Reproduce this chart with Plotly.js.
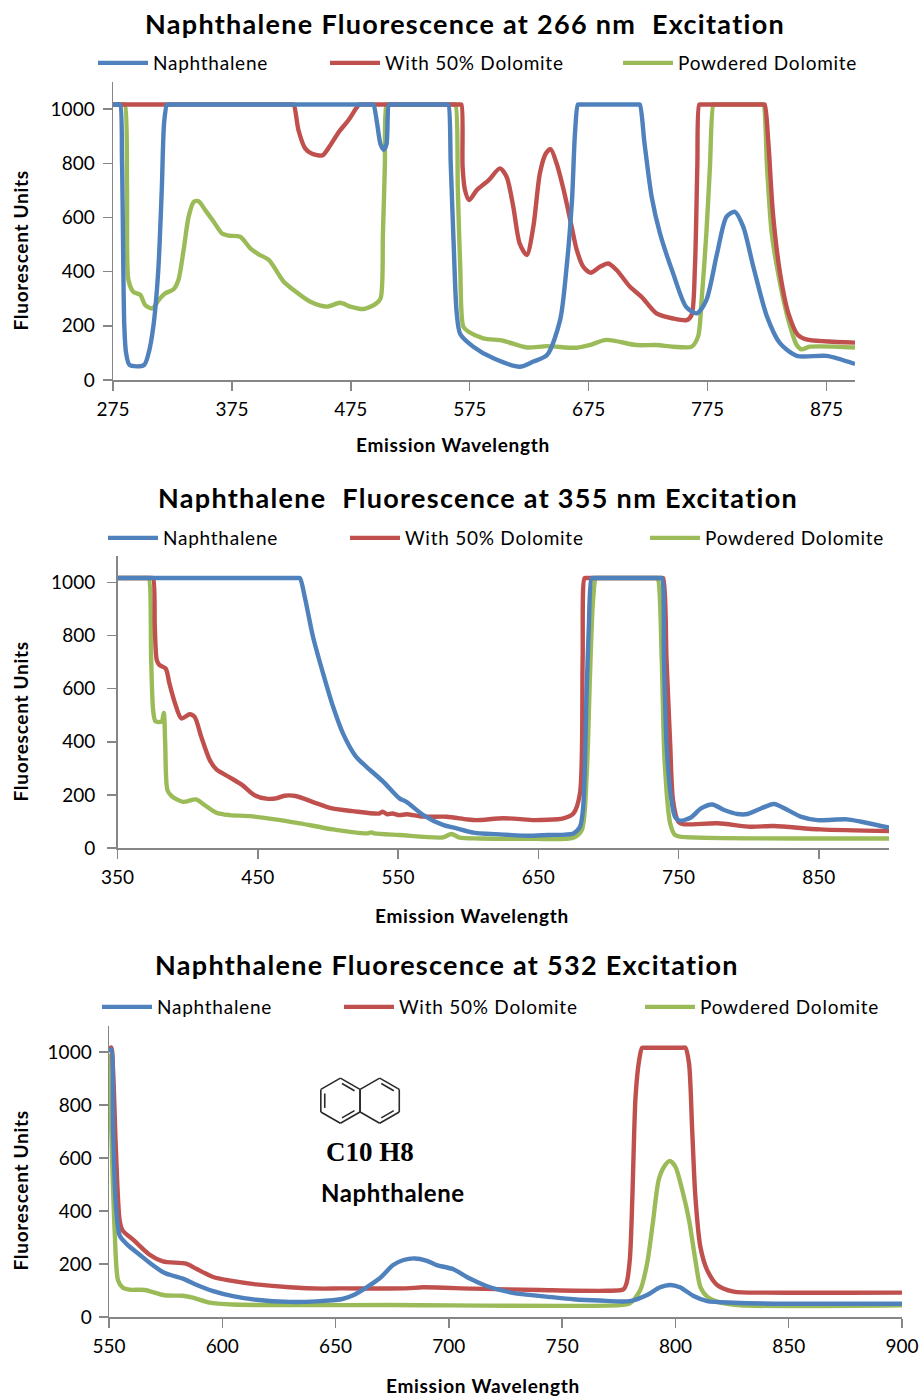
<!DOCTYPE html>
<html><head><meta charset="utf-8">
<script src="https://cdn.plot.ly/plotly-3.0.1.min.js"></script>
<style>html,body{margin:0;padding:0;background:#fff}#c{width:921px;height:1397px}</style>
</head><body><div id="c"></div>
<script>
const seriesNames = ['Naphthalene','With 50% Dolomite','Powdered Dolomite'];
const seriesColors = ['#4F81BD','#C0504D','#9BBB59'];
const chartTitles = ['Naphthalene Fluorescence at 266 nm  Excitation','Naphthalene  Fluorescence at 355 nm Excitation','Naphthalene Fluorescence at 532 Excitation'];
const xTitle = 'Emission Wavelength', yTitle = 'Fluorescent Units';
const ticksA = [275,375,475,575,675,775,875];
const ticksB = [350,450,550,650,750,850];
const ticksC = [550,600,650,700,750,800,850,900];
const ticksY = [0,200,400,600,800,1000];

// Chart 1 : 266 nm
const aBlueX = [275,279.5,281,282.6,284.5,286,289,301,305,309,313,316,318,320.4,322,492.5,494,497,500,502.6,505,507,508.5,555.5,557,559,561.5,564,567,578,595,617,628.5,640,651,656.5,661,663.5,666,667.5,716.5,718,722,728,735,746,757,766,774,783,791,798,805,813.5,825,836,850,875,899];
const aBlueY = [1017,1017,1017,800,200,100,55,55,100,200,400,700,950,1017,1017,1017,1017,950,870,850,870,1017,1017,1017,1017,800,500,250,170,123,80,49,68,92,221,418,664,910,1017,1017,1017,1017,873,676,541,394,270,246,295,467,603,621,566,418,234,135,89,89,59];
const aRedX = [275,425.5,427,431,436.6,442,451,456,465,473,482,483.5,566.5,568,569,571,574.4,581,591,600.4,606,611.6,617,623,628.5,634,639,643,648,654,660.7,665,670.5,676.7,684.5,691.5,698.5,709.8,719.5,732,746,757.4,761.6,764.4,766.4,768,769.5,821.5,823,826,830,836,843,851,858,899];
const aRedY = [1017,1017,1017,922,855,836,829,855,916,959,1017,1017,1017,1017,787,701,664,701,738,781,750,640,504,461,566,763,836,852,800,701,566,480,418,396,418,430,406,344,307,246,227,221,240,418,787,1017,1017,1017,1017,885,615,394,246,166,150,138];
const aGreenX = [275,283.5,285,286.8,288,292,298,302,308,313.4,319,326,330,334.4,338.6,343,347,352.6,359.7,366.7,372,382,390.5,397.5,406,418.6,427,441,455,466,474.6,485.8,495.6,500,502,503.6,505,506.5,561.5,563,565,567,569.6,574,586.4,603,623,640,665,676,690,715,732,746,761.6,767,770,774,777,780,781.5,820.5,822,825,829,836,843,850,854,861,899];
const aGreenY = [1017,1017,1017,700,369,326,314,277,264,295,320,335,369,480,603,658,660,627,584,541,533,529,486,464,443,363,332,289,271,285,271,262,280,301,541,787,1017,1017,1017,1017,700,418,197,178,154,145,120,125,119,129,148,129,129,123,123,160,295,541,787,1017,1017,1017,1017,787,541,357,221,129,113,123,120];

// Chart 2 : 355 nm
const bBlueX = [350,478,480,483.5,489.4,496.6,503.7,510.8,520,527.5,539.4,551,556,568,582,591.8,603.7,627,644,658,675,679.7,682,684.4,686,688,689.5,736.5,738,739.6,741.4,744.3,747.4,751,758.8,766,774,782.5,792,799,808.7,818,827.7,837,849,870,880,900];
const bBlueY = [1017,1017,1017,946,795,657,532,431,344,306,250,187,174,124,87,74,58,50,46,49,55,80,156,582,833,1017,1017,1017,1017,708,394,206,118,103,115,149,164,143,128,128,149,166,143,118,105,108,99,77];
const bRedX = [350,374,375.4,376.6,378,380,384.4,387,391,395.6,401.5,405,409.7,415.8,420.5,430,439,447.6,456,463,469,477,489,503,517.5,536.5,539,542.4,546,551,556,568,584.7,599,606,625,639,646,667.8,675,679.7,681.6,683,684.5,737.5,739,741.4,744,746,749.8,753,777.8,801.5,818,851,900];
const bRedY = [1017,1017,1017,833,708,689,676,620,545,488,504,494,419,331,296,266,237,199,186,187,197,196,174,149,139,130,137,127,130,124,127,118,118,108,105,112,108,105,112,130,206,708,1017,1017,1017,1017,708,394,181,99,90,93,80,83,70,64];
const bGreenX = [350,371,372.3,374,375.4,377,381.4,383,384,385.6,388.5,396.6,406,412,420.5,430,444,461,480,503.7,527.5,531,533,551,582,588,594,608,639.4,675,681,684.4,686.8,689,691,692.5,733.5,735,738,740,744,747.4,751,900];
const bGreenY = [1017,1017,1017,708,519,478,476,509,394,218,196,174,183,162,133,124,120,109,93,70,55,59,55,49,40,53,39,36,35,39,68,268,645,933,1017,1017,1017,1017,708,331,93,49,43,36];

// Chart 3 : 532 nm
const cBlueX = [550,551,551.8,553,554.7,557.6,563.4,569.4,574.6,582.6,588.5,596,604.7,615,629.7,641.5,653,658,663.7,669.5,675.4,680,685,690,694.6,702,709,716.6,722.5,731,743,754.9,766.6,779.9,787.5,793,797.8,802,808,814,825.7,849,900];
const cBlueY = [1000,1010,704,428,308,277,236,195,166,145,122,98,79,65,57,59,68,83,112,146,196,215,221,213,196,180,146,117,102,87,77,67,62,60,83,111,121,112,79,60,54,50,50];
const cRedX = [550,551,551.8,553,554.7,556,561,567.8,573.8,584,588.5,596,603,615,629.7,644.4,652,681,688.7,710.7,740,769.6,777,778.4,779.9,781,782.4,784,785.3,786.5,803,804.4,806,807.4,808.8,811,814,818.4,825.7,840,900];
const cRedY = [1010,1017,931,641,365,327,289,236,210,201,182,151,138,123,112,107,108,108,112,107,102,99,104,127,220,454,831,970,1016,1016,1016,1016,957,705,454,265,177,121,96,92,92];
const cGreenX = [550,551,552.5,554,556,559,565.7,574.6,582.6,587,594.4,604.7,623.8,674,775.7,780,784.5,787.5,790,792.6,795,797.5,800,803,806,808.8,811,814,820,828.7,900];
const cGreenY = [994,704,327,138,111,103,102,82,80,73,54,47,45,45,45,52,102,202,353,517,567,589,567,479,366,215,114,77,54,44,44];

// Chart geometry in page pixels
const W = 921, H = 1397;
const px = v => v / W, py = v => 1 - v / H;
const boxes = [
  {l:113,r:855,t:82,b:380,range:[275,899],ticks:ticksA,yGap:4,title:[465,24],xt:[453,444],yt:[19.5,251],leg:[[93,63],[325,63],[618,63]]},
  {l:117.5,r:889,t:556,b:848,range:[350,900],ticks:ticksB,yGap:8,title:[478,497],xt:[472,915],yt:[19.5,722],leg:[[103,538],[345,538],[645,538]]},
  {l:109,r:902,t:1025.5,b:1317,range:[550,900],ticks:ticksC,yGap:3,title:[447,965],xt:[483,1385],yt:[19.5,1191],leg:[[97,1007],[339,1007],[640,1007]]}
];
const data3 = [
  [[aBlueX,aBlueY],[aRedX,aRedY],[aGreenX,aGreenY]],
  [[bBlueX,bBlueY],[bRedX,bRedY],[bGreenX,bGreenY]],
  [[cBlueX,cBlueY],[cRedX,cRedY],[cGreenX,cGreenY]]
];
const font = 'Lato, "Noto Sans", sans-serif';
const axisColor = '#868686';
const layout = {
  width:W,height:H,margin:{l:0,r:0,t:0,b:0},paper_bgcolor:'#fff',plot_bgcolor:'#fff',
  font:{family:font,size:18,color:'#000'},hovermode:false,annotations:[],shapes:[]
};
const traces = [];
const spaced = (t,sp) => '<span style="letter-spacing:'+sp+'px"><b>'+t+'</b></span>';
const spacedPlain = (t,sp) => '<span style="letter-spacing:'+sp+'px">'+t+'</span>';
boxes.forEach((b,i) => {
  const n = i===0?'':String(i+1);
  layout['xaxis'+n] = {domain:[px(b.l),px(b.r)],range:b.range,anchor:'y'+n,tickmode:'array',tickvals:b.ticks,
    ticks:'outside',ticklen:9,tickwidth:1.5,tickcolor:axisColor,showline:true,linecolor:axisColor,linewidth:1.5,
    showgrid:false,zeroline:false,tickfont:{family:font,size:19,color:'#000'},ticklabelstandoff:3};
  layout['yaxis'+n] = {domain:[py(b.b),py(b.t)],range:[0,1100],anchor:'x'+n,tickmode:'array',tickvals:ticksY,
    ticks:'outside',ticklen:9,tickwidth:1.5,tickcolor:axisColor,showline:true,linecolor:axisColor,linewidth:1.5,
    showgrid:false,zeroline:false,tickfont:{family:font,size:19,color:'#000'},ticklabelstandoff:b.yGap};
  [2,1,0].forEach(s => {
    const lid = 'legend'+(i*3+s===0?'':String(i*3+s+1));
    traces.push({type:'scatter',mode:'lines',name:spacedPlain(seriesNames[s],.75),x:data3[i][s][0],y:data3[i][s][1],
      xaxis:'x'+n,yaxis:'y'+n,legend:lid,showlegend:true,
      line:{color:seriesColors[s],width:4.4,shape:'spline',smoothing:0.75}});
    layout[lid] = {x:px(b.leg[s][0]),y:py(b.leg[s][1]),xanchor:'left',yanchor:'middle',orientation:'h',
      itemwidth:50,bgcolor:'rgba(0,0,0,0)',borderwidth:0,font:{family:font,size:19,color:'#000'},
      itemclick:false,itemdoubleclick:false};
  });
  const ann = (text,p,size,extra={}) => layout.annotations.push(Object.assign({text,xref:'paper',yref:'paper',
    x:px(p[0]),y:py(p[1]),xanchor:'center',yanchor:'middle',showarrow:false,
    font:{family:font,size,color:'#000'}},extra));
  ann(spaced(chartTitles[i],1.3),b.title,27);
  ann(spaced(xTitle,.7),b.xt,19);
  ann(spaced(yTitle,.7),b.yt,19,{textangle:-90});
});
layout.annotations.push({text:'<b>C10 H8</b>',xref:'paper',yref:'paper',x:px(370),y:py(1152),xanchor:'center',yanchor:'middle',showarrow:false,font:{family:'"Liberation Serif",serif',size:27,color:'#000'}});
layout.annotations.push({text:spaced('Naphthalene',.6),xref:'paper',yref:'paper',x:px(392.5),y:py(1192),xanchor:'center',yanchor:'middle',showarrow:false,font:{family:font,size:24,color:'#000'}});

// Naphthalene structure drawing (decoration, page pixels)
const ringR = 22.6, ringY = 1100.7, ringXs = [340.4,379.7];
const bondStyle = {color:'#2a2a2a',width:1.6};
const seg = (x0,y0,x1,y1) => layout.shapes.push({type:'line',xref:'paper',yref:'paper',x0:px(x0),y0:py(y0),x1:px(x1),y1:py(y1),line:bondStyle});
const vert = (cx,k,r) => { const a = Math.PI/3*k - Math.PI/2; return [cx+r*Math.cos(a), ringY+r*Math.sin(a)]; };
ringXs.forEach(cx => {
  for(let k=0;k<6;k++){ const p=vert(cx,k,ringR),q=vert(cx,k+1,ringR); seg(p[0],p[1],q[0],q[1]); }
});
[[0,0],[2,0],[4,0],[0,1],[2,1]].forEach(([k,ri]) => {
  const a = vert(ringXs[ri],k,ringR*0.8), b2 = vert(ringXs[ri],k+1,ringR*0.8);
  const m = [a[0]+(b2[0]-a[0])*0.1,a[1]+(b2[1]-a[1])*0.1], e=[a[0]+(b2[0]-a[0])*0.9,a[1]+(b2[1]-a[1])*0.9];
  seg(m[0],m[1],e[0],e[1]);
});
Plotly.newPlot('c',traces,layout,{displayModeBar:false,staticPlot:true});
</script></body></html>
